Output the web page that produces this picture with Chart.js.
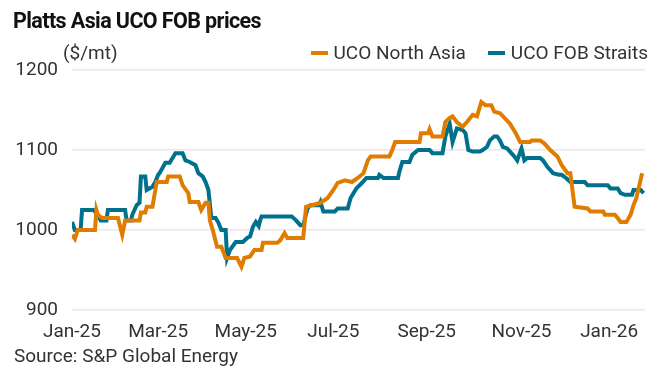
<!DOCTYPE html>
<html lang="en">
<head>
    <meta charset="UTF-8">
    <title>Platts Asia UCO FOB prices</title>
    <script src="https://cdn.jsdelivr.net/npm/chart.js"></script>
    <style>
        body { margin: 0; background: #fff; font-family: Roboto, "Noto Sans", sans-serif; color: #333; }
        #wrap { position: relative; width: 666px; height: 377px; overflow: hidden; }
        #chart { position: absolute; left: 0; top: 0; }
        .title { position: absolute; left: 13px; top: 8px; font-size: 21.5px; font-weight: 700; color: #111; letter-spacing: -0.6px; }
        .unit { position: absolute; left: 63px; top: 41px; font-size: 19px; }
        .legend { position: absolute; right: 18px; top: 41px; font-size: 19px; display: flex; align-items: center; }
        .legend span.sw { display: inline-block; width: 17px; height: 4px; margin-right: 6px; }
        .legend .item { display: flex; align-items: center; margin-left: 22px; }
        .source { position: absolute; left: 14px; top: 344px; font-size: 19px; }
    </style>
</head>
<body>
<div id="wrap">
    <canvas id="chart" width="666" height="377"></canvas>
    <div class="title">Platts Asia UCO FOB prices</div>
    <div class="unit">($/mt)</div>
    <div class="legend">
        <div class="item"><span class="sw" style="background:#e07d00"></span>UCO North Asia</div>
        <div class="item"><span class="sw" style="background:#00718c"></span>UCO FOB Straits</div>
    </div>
    <div class="source">Source: S&amp;P Global Energy</div>
</div>

<script>
    // x is a day index from the start of Jan-25
    const tickDays = [0, 60, 121, 182, 247, 313, 374];
    const tickLabels = ['Jan-25', 'Mar-25', 'May-25', 'Jul-25', 'Sep-25', 'Nov-25', 'Jan-26'];

    const northAsiaDays = [0, 2, 4, 16, 17, 18, 21, 32, 35, 37, 47, 48, 51, 52, 56, 59, 66, 67, 75, 77,
        81, 82, 88, 90, 93, 95, 96, 98, 101, 104, 107, 115, 118, 120, 124, 127, 132, 133, 143, 145,
        148, 150, 161, 163, 173, 178, 182, 185, 190, 195, 199, 203, 206, 208, 221, 223, 225, 242, 243, 248,
        249, 251, 258, 260, 263, 265, 268, 272, 275, 279, 282, 285, 288, 292, 294, 298, 305, 309, 312, 319,
        320, 326, 329, 333, 338, 341, 345, 347, 350, 359, 361, 370, 371, 378, 380, 382, 386, 389, 391, 393, 397];
    const northAsiaValues = [994, 989, 1000, 1000, 1025, 1019, 1015, 1015, 994, 1012, 1012, 1022, 1022, 1029, 1029, 1060, 1060, 1067, 1067, 1056,
        1046, 1035, 1035, 1025, 1034, 1034, 1012, 1000, 979, 979, 965, 965, 954, 965, 967, 975, 975, 984, 984, 987,
        996, 990, 990, 1029, 1034, 1040, 1050, 1059, 1062, 1060, 1065, 1071, 1087, 1092, 1092, 1100, 1110, 1110, 1121, 1121,
        1126, 1117, 1117, 1135, 1140, 1142, 1135, 1129, 1135, 1144, 1142, 1160, 1156, 1156, 1148, 1146, 1133, 1121, 1110, 1110,
        1112, 1112, 1108, 1100, 1092, 1081, 1071, 1071, 1029, 1027, 1023, 1023, 1019, 1019, 1015, 1010, 1010, 1019, 1031, 1040, 1071];

    const straitsDays = [0, 2, 6, 7, 15, 18, 20, 24, 25, 37, 38, 41, 42, 45, 47, 48, 51, 52, 56, 58,
        60, 61, 65, 68, 70, 72, 77, 79, 82, 86, 88, 91, 93, 95, 97, 100, 102, 104, 107, 108,
        110, 114, 119, 122, 124, 126, 128, 130, 131, 132, 153, 156, 159, 161, 164, 166, 172, 173, 175, 183,
        185, 192, 194, 196, 198, 202, 205, 213, 214, 217, 227, 228, 230, 235, 237, 241, 249, 251, 258, 260,
        263, 265, 268, 272, 274, 276, 279, 284, 286, 289, 291, 294, 296, 298, 300, 303, 305, 308, 310, 313,
        315, 317, 326, 328, 331, 335, 339, 341, 344, 347, 357, 359, 373, 375, 380, 382, 385, 390, 391, 396, 398];
    const straitsValues = [1010, 1000, 1000, 1025, 1025, 1019, 1012, 1012, 1025, 1025, 1012, 1012, 1019, 1031, 1034, 1067, 1067, 1050, 1054, 1060,
        1069, 1071, 1084, 1084, 1090, 1096, 1096, 1087, 1085, 1081, 1071, 1067, 1060, 1050, 1015, 1015, 1009, 1000, 1000, 965,
        975, 985, 985, 990, 992, 1004, 1010, 1005, 1012, 1017, 1017, 1012, 1006, 1006, 1027, 1031, 1031, 1035, 1023, 1023,
        1027, 1027, 1040, 1046, 1052, 1059, 1065, 1065, 1069, 1065, 1065, 1073, 1085, 1085, 1094, 1100, 1100, 1096, 1096, 1117,
        1133, 1110, 1127, 1125, 1121, 1100, 1098, 1098, 1100, 1104, 1112, 1117, 1117, 1112, 1104, 1102, 1098, 1092, 1087, 1102,
        1087, 1090, 1090, 1087, 1079, 1071, 1069, 1069, 1065, 1060, 1060, 1056, 1056, 1052, 1052, 1046, 1044, 1044, 1050, 1050, 1046];

    function toPoints(days, values) {
        return days.map((d, i) => ({ x: d, y: values[i] }));
    }

    const ctx = document.getElementById('chart').getContext('2d');
    new Chart(ctx, {
        type: 'line',
        data: {
            datasets: [{
                label: 'UCO North Asia',
                data: toPoints(northAsiaDays, northAsiaValues),
                borderColor: '#e07d00',
                borderWidth: 4,
                pointRadius: 0,
                tension: 0
            }, {
                label: 'UCO FOB Straits',
                data: toPoints(straitsDays, straitsValues),
                borderColor: '#00718c',
                borderWidth: 4,
                pointRadius: 0,
                tension: 0
            }]
        },
        options: {
            responsive: false,
            animation: false,
            layout: { padding: { top: 70, right: 21, bottom: 27, left: 0 } },
            plugins: {
                legend: { display: false },
                tooltip: { enabled: false }
            },
            scales: {
                x: {
                    type: 'linear',
                    min: 0,
                    max: 399,
                    grid: { display: false },
                    border: { display: false },
                    afterBuildTicks: scale => {
                        scale.ticks = tickDays.map(v => ({ value: v }));
                    },
                    afterFit: scale => { scale.height = 40; },
                    ticks: {
                        autoSkip: false,
                        maxRotation: 0,
                        padding: 3,
                        color: '#333',
                        font: { family: 'Roboto', size: 19 },
                        callback: v => tickLabels[tickDays.indexOf(v)]
                    }
                },
                y: {
                    min: 900,
                    max: 1200,
                    grid: { color: '#e8e8e8', lineWidth: 1.5, drawTicks: false },
                    border: { display: false },
                    afterFit: scale => { scale.width = 72; },
                    ticks: {
                        stepSize: 100,
                        padding: 14,
                        color: '#333',
                        font: { family: 'Roboto', size: 19 },
                        callback: v => String(v)
                    }
                }
            }
        }
    });
</script>
</body>
</html>
